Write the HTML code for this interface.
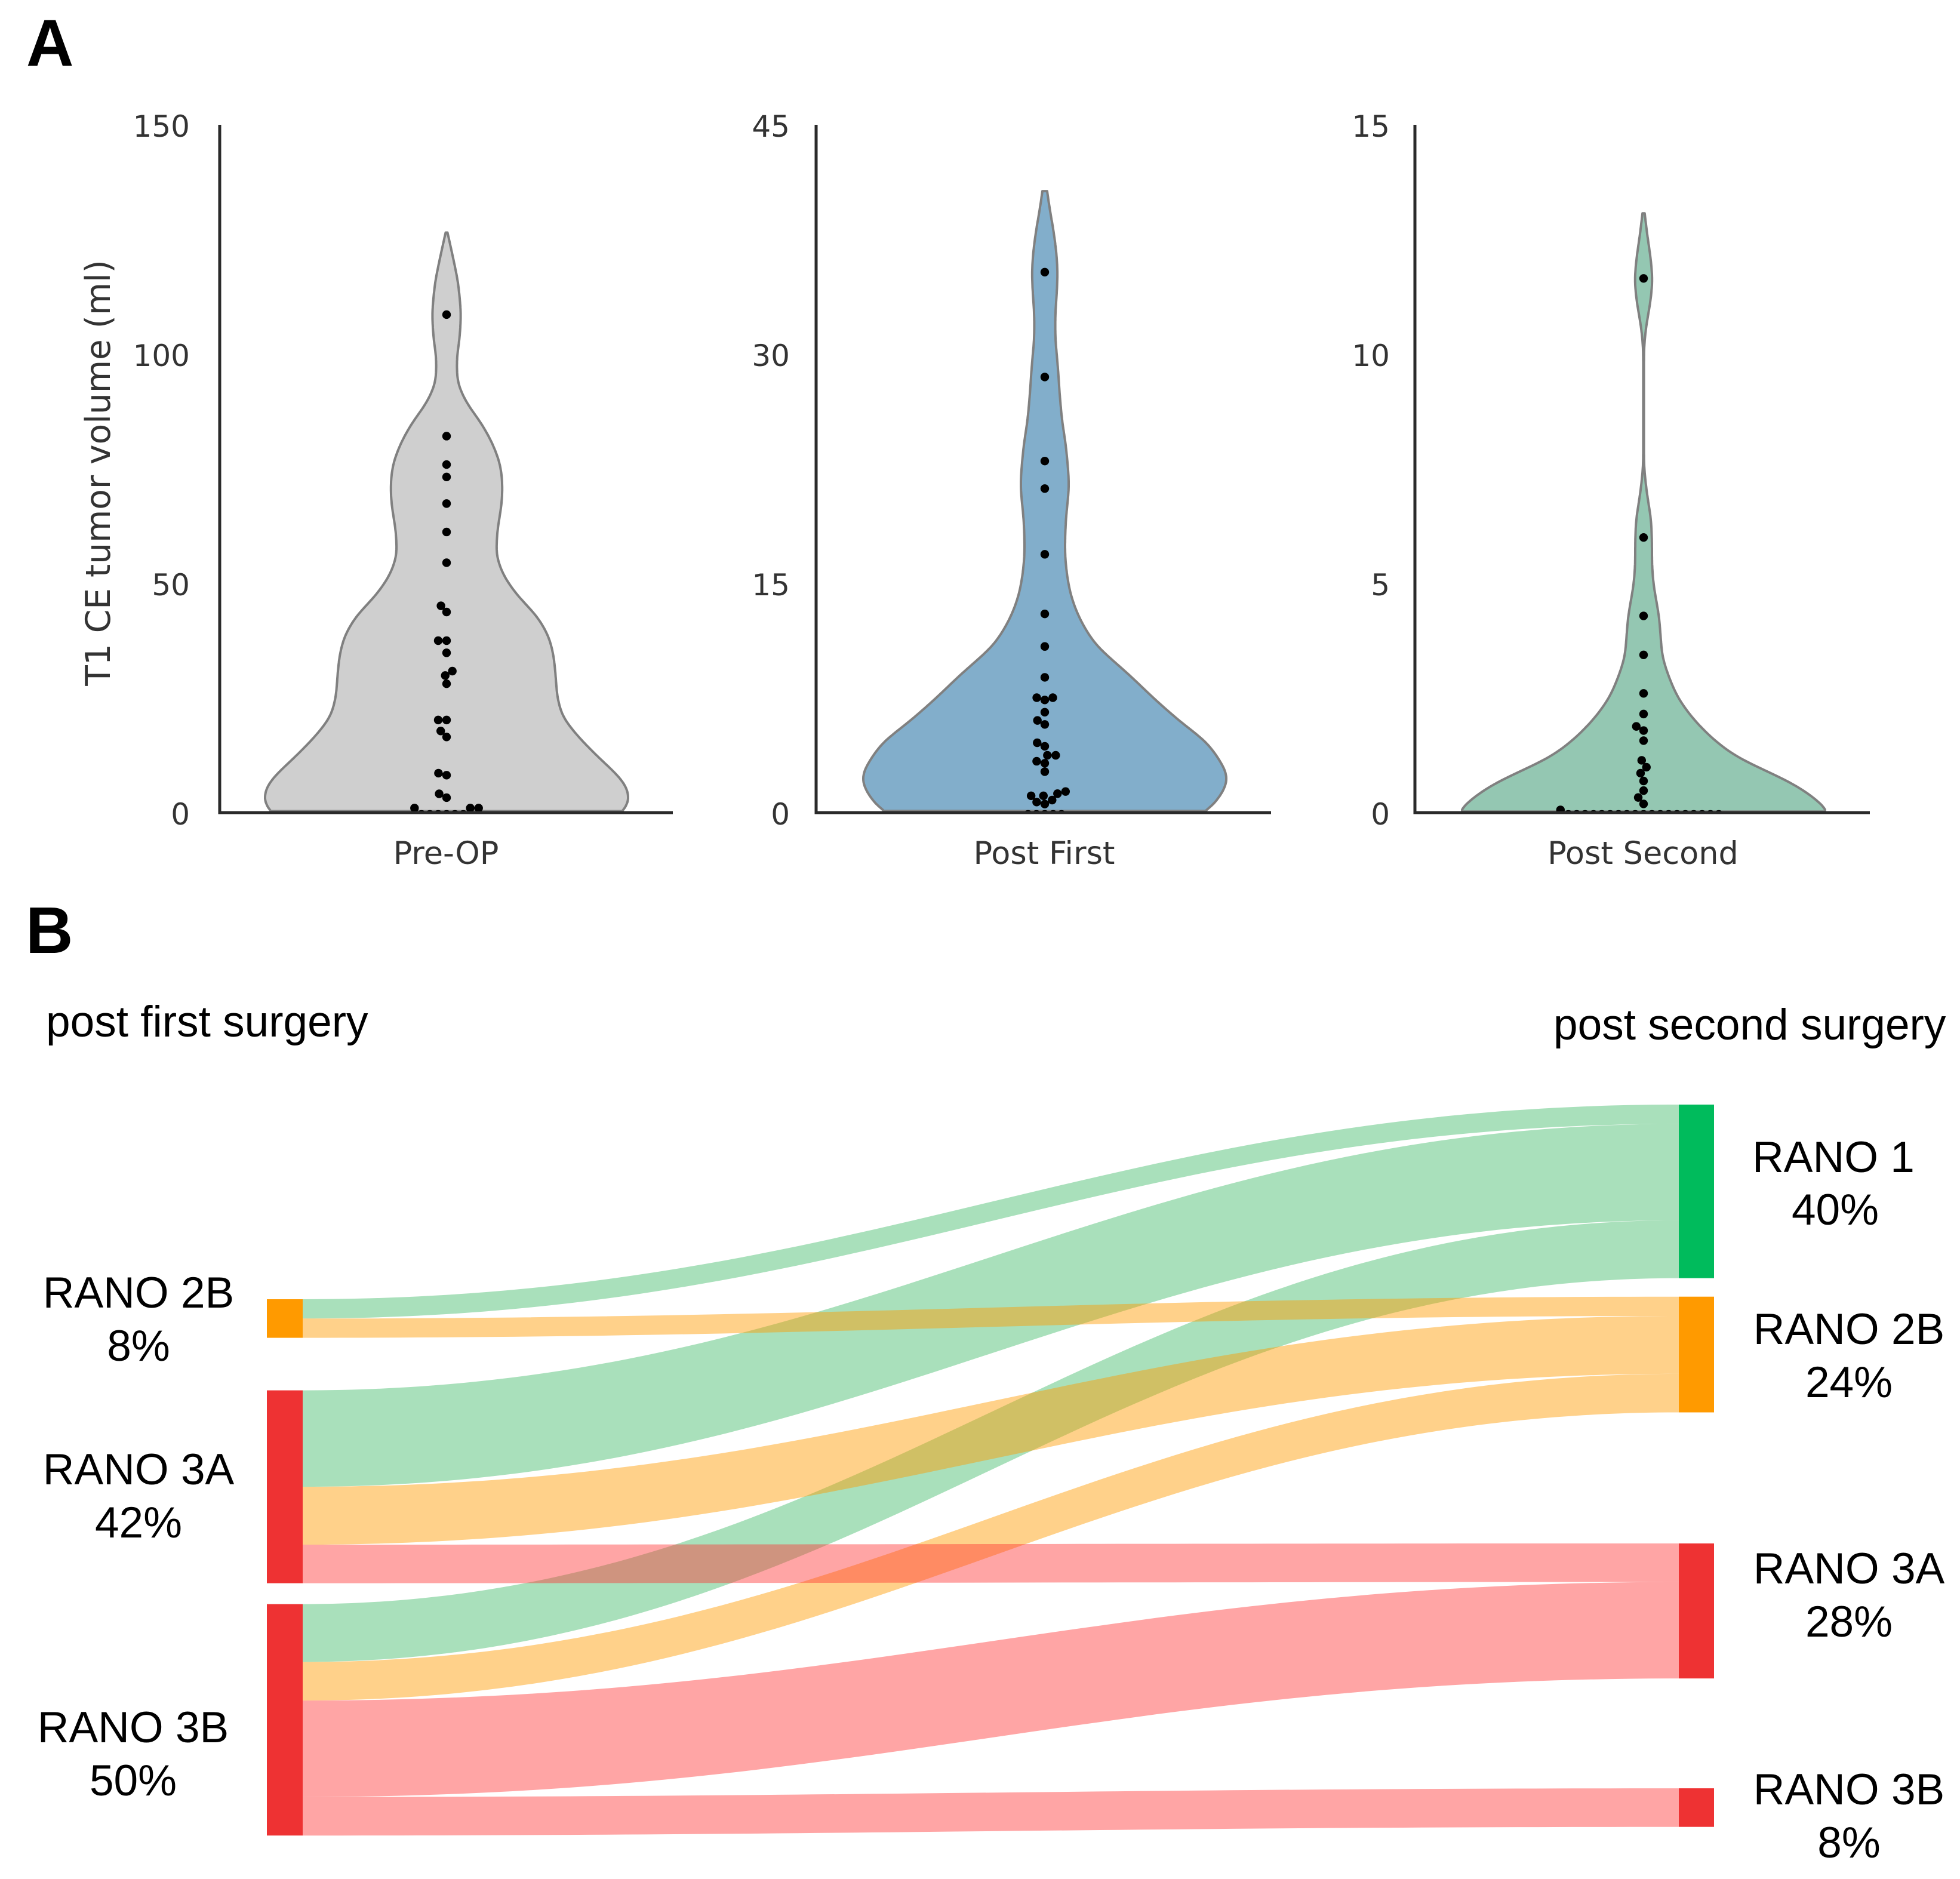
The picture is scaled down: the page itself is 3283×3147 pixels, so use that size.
<!DOCTYPE html>
<html lang="en">
<head>
<meta charset="utf-8">
<title>T1 CE tumor volume and RANO class transitions</title>
<style>
html,body{margin:0;padding:0;background:#fff;}
svg{display:block;}
.tick{font-family:"DejaVu Sans",sans-serif;font-size:50px;fill:#333;}
.cat{font-family:"DejaVu Sans",sans-serif;font-size:52.5px;fill:#333;}
.sk{font-family:"Liberation Sans",sans-serif;font-size:73px;fill:#000;text-anchor:middle;}
.hd{font-family:"Liberation Sans",sans-serif;font-size:73px;fill:#000;}
.letter{font-family:"Liberation Sans",sans-serif;font-size:110px;font-weight:bold;fill:#000;}
</style>
</head>
<body>
<svg id="fig" xmlns="http://www.w3.org/2000/svg" width="3283" height="3147" viewBox="0 0 3283 3147">
  <rect width="3283" height="3147" fill="#fff"/>
  <g id="panelA"></g>
  <g id="panelB"></g>

  <text class="letter" x="44" y="110">A</text>
  <text class="letter" x="43" y="1596">B</text>

  <text transform="translate(184,792) rotate(-90)" text-anchor="middle" font-family="'DejaVu Sans',sans-serif" font-size="56.6" fill="#333">T1 CE tumor volume (ml)</text>

  <text class="hd" x="77" y="1736">post first surgery</text>
  <text class="hd" x="2602" y="1741">post second surgery</text>

  <text class="sk" x="232" y="2190">RANO 2B</text>
  <text class="sk" x="232" y="2279">8%</text>
  <text class="sk" x="232" y="2486">RANO 3A</text>
  <text class="sk" x="232" y="2575">42%</text>
  <text class="sk" x="223" y="2918">RANO 3B</text>
  <text class="sk" x="223" y="3007">50%</text>

  <text class="sk" x="3071" y="1963">RANO 1</text>
  <text class="sk" x="3074" y="2051">40%</text>
  <text class="sk" x="3097" y="2251">RANO 2B</text>
  <text class="sk" x="3097" y="2340">24%</text>
  <text class="sk" x="3097" y="2652">RANO 3A</text>
  <text class="sk" x="3097" y="2741">28%</text>
  <text class="sk" x="3097" y="3022">RANO 3B</text>
  <text class="sk" x="3097" y="3111">8%</text>
</svg>

<script>
// ---- Violin data (ml) ----
const preOpValues = [0,0,0,0,0,0,1,1,1,3.26,4.1,8.16,8.6,16.5,17.8,20.2,20.2,28.1,29.9,30.86,34.85,37.5,37.5,43.75,45.1,54.5,61.2,67.4,73.2,75.9,82.1,108.6];
const postFirstValues = [0,0,0,0,0,0.56,0.69,0.82,1.1,1.1,1.24,1.38,2.68,3.23,3.36,3.75,3.75,4.34,4.57,5.77,6.03,6.57,7.37,7.52,7.52,8.85,10.87,13,16.9,21.2,23,28.5,35.36];
const postSecondValues = [0,0,0,0,0,0,0,0,0,0,0,0,0,0,0,0,0,0,0,0.06,0.19,0.33,0.48,0.69,0.86,0.99,1.14,1.57,1.79,1.88,2.15,2.6,3.44,4.29,6,11.65];

// Density outline: value level and relative density at that level
const preOpLevels = [126.5,121.3,115.8,109.1,103.6,99.2,93.7,89.3,84.8,80.4,76,71.6,67.2,61.6,56.1,51.7,47.3,42.9,38.4,34,29.6,25.2,20.8,16.3,11.9,7.5,4.2,2,0];
const preOpDensity = [0.005,0.034,0.0625,0.079,0.072,0.055,0.058,0.108,0.192,0.252,0.293,0.305,0.3,0.276,0.269,0.308,0.385,0.493,0.558,0.584,0.594,0.601,0.63,0.721,0.83,0.95,1,0.986,0.95];
const postFirstLevels = [40.66,39.7,37.96,36.56,35.35,34.1,32.7,31,29.2,27.5,25.7,24,22.3,21.4,20.5,19.3,17.9,16.7,15.3,14.26,13.2,12.2,10.9,8.9,7.6,5.9,4.6,2.9,2.1,0.9,0];
const postFirstDensity = [0.013,0.024,0.049,0.064,0.07,0.066,0.057,0.057,0.071,0.08,0.093,0.115,0.128,0.132,0.126,0.115,0.11,0.11,0.123,0.14,0.17,0.21,0.28,0.47,0.58,0.74,0.884,0.979,1,0.947,0.863];
const postSecondLevels = [13.07,12.57,12.13,11.63,11.13,10.69,10.25,10.03,7.6,7.38,6.94,6.38,5.94,5.39,4.95,4.27,3.4,3,2.53,2.1,1.67,1.22,0.625,0.3,0.1,0];
const postSecondDensity = [0.006,0.021,0.038,0.05,0.038,0.017,0.004,0.002,0.002,0.006,0.019,0.042,0.046,0.046,0.055,0.086,0.102,0.135,0.184,0.26,0.362,0.503,0.832,0.95,1,1];

const preOpTicks = [0,50,100,150];
const postFirstTicks = [0,15,30,45];
const postSecondTicks = [0,5,10,15];
const categoryLabels = ['Pre-OP','Post First','Post Second'];

// ---- Sankey data (patients) ----
const leftNodes = ['2B','3A','3B'];
const rightNodes = ['1','2B','3A','3B'];
const flowSource = [0,0,1,1,1,2,2,2,2];
const flowTarget = [0,1,0,1,2,0,1,2,3];
const flowCount  = [1,1,5,3,2,3,2,5,2];

const NS = 'http://www.w3.org/2000/svg';
function make(tag, parent, attrs){
  const el = document.createElementNS(NS, tag);
  for (const k in attrs) el.setAttribute(k, attrs[k]);
  parent.appendChild(el);
  return el;
}

// ---- Panel A ----
const zeroY = 1361, topY = 209, halfWidth = 304, dotGap = 14, dotR = 7.2;
function axisY(v, max){ return zeroY - v / max * (zeroY - topY); }

// Resample the density profile on a fine pixel grid, soften it with a gaussian, restore peak to 1
function smoothProfile(levels, density, max){
  const ys = levels.map(v => axisY(v, max));
  const y0 = ys[0], y1 = ys[ys.length-1], step = 3, sigma = 13;
  const grid = [];
  for (let y = y0, i = 0; y <= y1 + 0.001; y += step){
    while (i < ys.length - 2 && ys[i+1] < y) i++;
    const f = (y - ys[i]) / (ys[i+1] - ys[i]);
    grid.push({y:y, d:density[i] + (density[i+1]-density[i]) * f});
  }
  const reach = Math.ceil(3*sigma/step);
  const out = grid.map(function(g,i){
    let sum = 0, w = 0;
    const span = Math.min(reach, i, grid.length-1-i);   // symmetric window keeps the ends pinned
    for (let k = -span; k <= span; k++){
      const wt = Math.exp(-0.5*(k*step/sigma)*(k*step/sigma));
      sum += grid[i+k].d*wt; w += wt;
    }
    return {y:g.y, d:sum/w};
  });
  const peak = Math.max.apply(null, out.map(q => q.d));
  out.forEach(q => { q.d = q.d / peak; });
  return out;
}

// Beeswarm: ascending values, each point takes the free spot closest to the centre
function swarm(values, max){
  const sorted = values.slice().sort((a,b)=>a-b);
  const placed = [];
  sorted.forEach(function(v){
    const y = axisY(v, max);
    const near = placed.filter(p => Math.abs(p.y - y) < dotGap);
    const cands = [0];
    near.forEach(function(p){
      const dx = Math.sqrt(dotGap*dotGap - (p.y-y)*(p.y-y));
      cands.push(p.x - dx, p.x + dx);
    });
    const free = cands.filter(x => near.every(p => (p.x-x)*(p.x-x) + (p.y-y)*(p.y-y) >= dotGap*dotGap - 0.01));
    free.sort((a,b)=> (Math.abs(a)-Math.abs(b)) || (a-b));
    placed.push({x:free[0], y:y, v:v});
  });
  return placed;
}

const panels = [
  {key:'pre-op', cat:0, axisX:368, rightX:1127, cx:748, max:150, tickRight:318, ticks:preOpTicks, values:preOpValues, levels:preOpLevels, density:preOpDensity, fill:'#cfcfcf'},
  {key:'post-first', cat:1, axisX:1367, rightX:2129, cx:1750, max:45, tickRight:1323, ticks:postFirstTicks, values:postFirstValues, levels:postFirstLevels, density:postFirstDensity, fill:'#82aecb'},
  {key:'post-second', cat:2, axisX:2370, rightX:3132, cx:2753, max:15, tickRight:2328, ticks:postSecondTicks, values:postSecondValues, levels:postSecondLevels, density:postSecondDensity, fill:'#94c7b2'}
];
const panelA = document.getElementById('panelA');
const defs = make('defs', panelA, {});

panels.forEach(function(p){
  const clip = make('clipPath', defs, {id:'clip-' + p.key});
  make('rect', clip, {x:p.axisX, y:topY, width:p.rightX-p.axisX, height:zeroY-topY});
  const g = make('g', panelA, {});
  
  

  const profile = smoothProfile(p.levels, p.density, p.max);
  const rightSide = profile.map(q => (p.cx + q.d*halfWidth).toFixed(1) + ',' + q.y.toFixed(1));
  const leftSide = profile.map(q => (p.cx - q.d*halfWidth).toFixed(1) + ',' + q.y.toFixed(1)).reverse();
  const d = 'M' + rightSide.concat(leftSide).join('L') + 'Z';
  const violin = make('path', g, {d:d, fill:p.fill, stroke:'#808080', 'stroke-width':4, 'stroke-linejoin':'round', 'clip-path':'url(#clip-' + p.key + ')'});
  
  

  const dots = make('g', g, {'clip-path':'url(#clip-' + p.key + ')'});
  
  
  swarm(p.values, p.max).forEach(function(pt){
    const dot = make('circle', dots, {cx:p.cx + pt.x, cy:pt.v === 0 ? pt.y + 3 : pt.y, r:dotR, fill:'#000'});
    
    
  });

  const yAxis = make('line', g, {x1:p.axisX, x2:p.axisX, y1:topY, y2:zeroY+2.5, stroke:'#2a2a2a', 'stroke-width':5});
  
  
  const xAxis = make('line', g, {x1:p.axisX-2.5, x2:p.rightX, y1:zeroY, y2:zeroY, stroke:'#2a2a2a', 'stroke-width':5});
  
  

  p.ticks.forEach(function(t){
    const tx = make('text', g, {class:'tick', x:p.tickRight, y:axisY(t,p.max)+20, 'text-anchor':'end'});
    tx.textContent = String(t);
    
    
  });
  const cat = make('text', g, {class:'cat', x:p.cx - 1, y:1447, 'text-anchor':'middle'});
  cat.textContent = categoryLabels[p.cat];
  
  
});

// ---- Panel B ----
const perPatient = 32.3;
const leftX0 = 447, leftX1 = 507, rightX0 = 2812, rightX1 = 2871;
const leftStart = 2176, rightStart = 1850;
const leftSpacing = [0,88,35];
const rightSpacing = [0,31,219.5,184];
const curvature = 0.41;
const targetFlow = ['rgba(60,184,100,.44)','rgba(255,154,0,.46)','rgba(255,51,51,.44)','rgba(255,51,51,.44)'];
const leftColor = ['#ff9a00','#ee3233','#ee3233'];
const rightColor = ['#00bb5c','#ff9a00','#ee3233','#ee3233'];
const panelB = document.getElementById('panelB');

function stack(names, start, spacing, keyArr){
  let y = start;
  return names.map(function(n,i){
    y += spacing[i];
    const total = flowCount.reduce((s,c,j)=> s + (keyArr[j]===i ? c : 0), 0);
    const node = {top:y, h:total*perPatient, cursor:y};
    y += node.h;
    return node;
  });
}
const leftStack = stack(leftNodes, leftStart, leftSpacing, flowSource);
const rightStack = stack(rightNodes, rightStart, rightSpacing, flowTarget);

const links = flowCount.map(function(c,i){
  const h = c*perPatient;
  const a = leftStack[flowSource[i]], b = rightStack[flowTarget[i]];
  const l = {y0:a.cursor, y1:b.cursor, h:h, t:flowTarget[i], s:flowSource[i]};
  a.cursor += h; b.cursor += h;
  return l;
});
const order = links.slice().sort((a,b)=> Math.min(a.t,2)-Math.min(b.t,2));
const cx1 = leftX1 + curvature*(rightX0-leftX1), cx2 = rightX0 - curvature*(rightX0-leftX1);
order.forEach(function(l){
  const d = 'M'+leftX1+','+l.y0+'C'+cx1+','+l.y0+' '+cx2+','+l.y1+' '+rightX0+','+l.y1+
            'L'+rightX0+','+(l.y1+l.h)+'C'+cx2+','+(l.y1+l.h)+' '+cx1+','+(l.y0+l.h)+' '+leftX1+','+(l.y0+l.h)+'Z';
  const link = make('path', panelB, {d:d, fill:targetFlow[l.t]});
  
  
});
leftStack.forEach(function(n,i){
  const r = make('rect', panelB, {x:leftX0, y:n.top, width:leftX1-leftX0, height:n.h, fill:leftColor[i]});
  
  
});
rightStack.forEach(function(n,i){
  const r = make('rect', panelB, {x:rightX0, y:n.top, width:rightX1-rightX0, height:n.h, fill:rightColor[i]});
  
  
});
</script>
</body>
</html>
